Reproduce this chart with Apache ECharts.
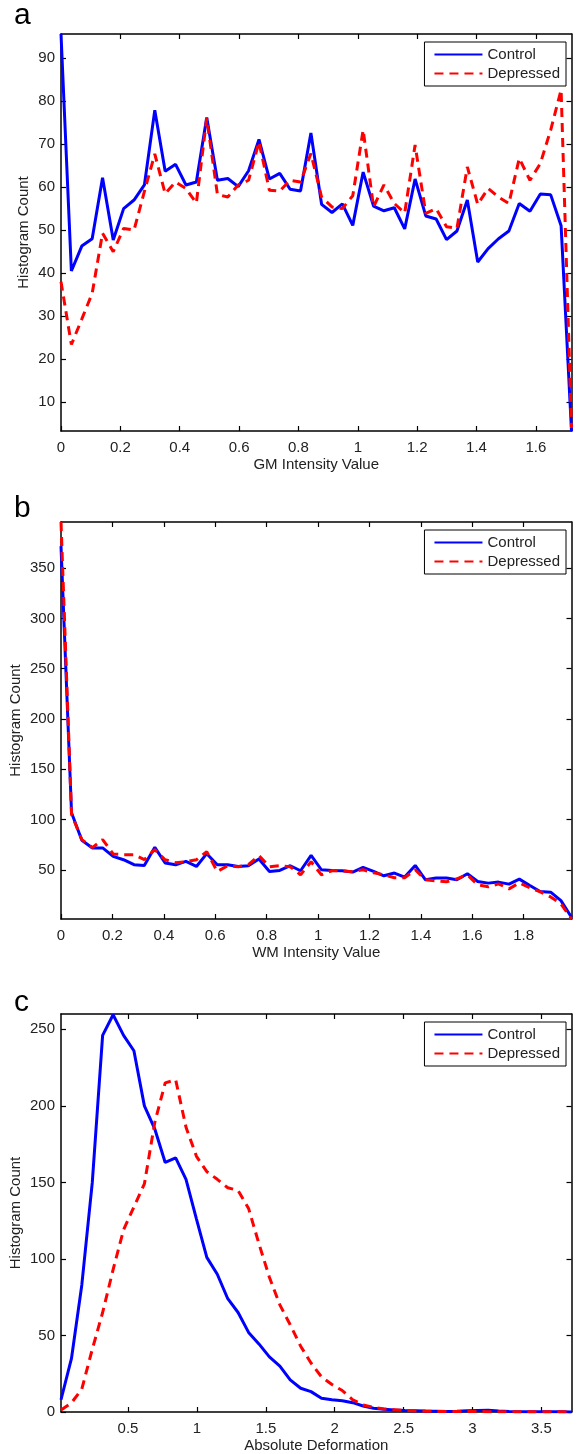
<!DOCTYPE html>
<html>
<head>
<meta charset="utf-8">
<script src="https://cdn.jsdelivr.net/npm/echarts@6/dist/echarts.min.js"></script>
<style>
html, body { margin: 0; padding: 0; background: #fff; }
#chart { width: 578px; height: 1454px; }
</style>
</head>
<body>
<div id="chart"></div>
<script>
// panel a: GM intensity
var gmX = [0, 0.035, 0.070, 0.105, 0.140, 0.176, 0.211, 0.246, 0.281, 0.316, 0.351, 0.386, 0.421, 0.456, 0.491, 0.527, 0.562, 0.597, 0.632, 0.667, 0.702, 0.737, 0.772, 0.807, 0.842, 0.878, 0.913, 0.948, 0.983, 1.018, 1.053, 1.088, 1.123, 1.158, 1.193, 1.229, 1.264, 1.299, 1.334, 1.369, 1.404, 1.439, 1.474, 1.509, 1.544, 1.580, 1.615, 1.650, 1.685, 1.720];
var gmControl = [95.6, 40.5, 46.3, 48, 62.2, 47.7, 55, 57, 60.5, 77.9, 63.7, 65.3, 60.5, 61.2, 76.2, 61.6, 62, 60.1, 63.8, 71.1, 61.9, 63.2, 59.5, 59.1, 72.6, 56, 54.1, 56.1, 51.1, 63.5, 55.6, 54.5, 55.2, 50.3, 61.9, 53.3, 52.6, 47.8, 49.8, 57, 42.6, 45.7, 48, 49.8, 56.2, 54.4, 58.4, 58.2, 51, 3.3];
var gmDepressed = [38, 23.4, 29.3, 35.3, 49.3, 45, 50.4, 50, 59, 67.7, 58.5, 61.2, 59.7, 56.3, 76, 58.3, 57.7, 60.5, 61.6, 70.5, 59.3, 59.1, 61.6, 61.2, 67.8, 57.7, 55.4, 55, 58, 73.3, 55.4, 60.5, 56.2, 54, 69.8, 53.9, 55, 50.8, 50.4, 64.7, 56, 59.7, 57.7, 56.2, 66.7, 61.6, 65.5, 73.3, 82.6, 4];
var gmXTicks = [0, 0.2, 0.4, 0.6, 0.8, 1, 1.2, 1.4, 1.6];
var gmYTicks = [10, 20, 30, 40, 50, 60, 70, 80, 90];

// panel b: WM intensity
var wmX = [0, 0.041, 0.081, 0.122, 0.162, 0.203, 0.243, 0.284, 0.324, 0.365, 0.405, 0.446, 0.486, 0.527, 0.567, 0.608, 0.648, 0.689, 0.729, 0.770, 0.811, 0.851, 0.892, 0.932, 0.973, 1.013, 1.054, 1.094, 1.135, 1.175, 1.216, 1.256, 1.297, 1.337, 1.378, 1.418, 1.459, 1.500, 1.540, 1.581, 1.621, 1.662, 1.702, 1.743, 1.783, 1.824, 1.864, 1.905, 1.945, 1.986];
var wmControl = [372, 106.7, 79.3, 71.7, 71.7, 63.3, 60, 55, 54.3, 72.3, 56.7, 55, 58.3, 53.3, 66, 55, 55, 53.3, 54, 60.7, 48.3, 49.3, 54, 49, 64.3, 50, 49.3, 49, 47.7, 52.3, 48.3, 44, 46.7, 42.7, 54.3, 40, 41.7, 41.7, 40, 46, 38.3, 36.7, 37.7, 35.7, 40.7, 34.3, 28.3, 27.7, 19.3, 2.7];
var wmDepressed = [396, 105, 80, 72, 80, 65.7, 65, 65, 60, 70, 60, 57, 58, 60, 68, 48.3, 54, 53, 55, 64, 53, 54, 53, 45, 58, 45, 49, 49, 48, 50, 47, 45, 42, 42, 50, 40, 39, 38, 41, 45, 35, 33, 36, 31, 37, 32, 28, 23, 16, 1];
var wmXTicks = [0, 0.2, 0.4, 0.6, 0.8, 1, 1.2, 1.4, 1.6, 1.8];
var wmYTicks = [50, 100, 150, 200, 250, 300, 350];

// panel c: absolute deformation
var defX = [0.014, 0.090, 0.165, 0.241, 0.316, 0.392, 0.468, 0.543, 0.619, 0.694, 0.770, 0.846, 0.921, 0.997, 1.072, 1.148, 1.224, 1.299, 1.375, 1.450, 1.526, 1.602, 1.677, 1.753, 1.828, 1.904, 1.980, 2.055, 2.131, 2.206, 2.282, 2.358, 2.433, 2.509, 2.584, 2.660, 2.736, 2.811, 2.887, 2.962, 3.038, 3.114, 3.189, 3.265, 3.340, 3.416, 3.492, 3.567, 3.643, 3.718];
var defControl = [8, 35, 83, 150, 246, 259.5, 246, 236, 200, 185, 163, 166, 152, 126, 101, 90, 74, 65, 52, 44.5, 36, 30, 21, 15.5, 13.3, 9, 8, 7.4, 6.1, 3.9, 2.4, 1.8, 1.3, 1.0, 0.8, 0.6, 0.5, 0.4, 0.5, 0.8, 1.0, 1.1, 0.6, 0.3, 0.2, 0.2, 0.1, 0.1, 0.1, 0];
var defDepressed = [1.3, 6, 15, 41, 65, 93, 119, 134, 149, 189, 215, 217, 186, 167, 157, 152, 146.5, 144.7, 133, 110, 88, 70, 57, 43, 32, 23, 18, 14, 8, 4.6, 3, 2, 1.5, 1, 0.7, 0.5, 0.4, 0.3, 0.3, 0.3, 0.3, 0.2, 0.2, 0.2, 0.1, 0.1, 0.1, 0.1, 0.1, 0.1];
var defXTicks = [0.5, 1, 1.5, 2, 2.5, 3, 3.5];
var defYTicks = [0, 50, 100, 150, 200, 250];

var font = 'Liberation Sans, Arial, Helvetica, sans-serif';
var ink = '#222';

function pairs(xs, ys) {
	return xs.map(function(x, i) { return [x, ys[i]]; });
}

function xAxes(g, min, max, ticks, name) {
	var base = {
		type: 'value', gridIndex: g, min: min, max: max,
		splitLine: { show: false },
		axisLine: { show: true, onZero: false, lineStyle: { color: '#000', width: 1.5 } },
		axisTick: { show: true, inside: true, length: 5, customValues: ticks, lineStyle: { color: '#000', width: 1.2 } }
	};
	var bottom = Object.assign({}, base, {
		position: 'bottom', name: name, nameLocation: 'middle', nameGap: 26, nameMoveOverlap: false,
		nameTextStyle: { fontFamily: font, fontSize: 15, color: ink },
		axisLabel: { show: true, customValues: ticks, margin: 9, fontFamily: font, fontSize: 15, color: ink }
	});
	var top = Object.assign({}, base, { position: 'top', axisLabel: { show: false } });
	return [bottom, top];
}

function yAxes(g, min, max, ticks, gap) {
	var base = {
		type: 'value', gridIndex: g, min: min, max: max,
		splitLine: { show: false },
		axisLine: { show: true, onZero: false, lineStyle: { color: '#000', width: 1.5 } },
		axisTick: { show: true, inside: true, length: 5, customValues: ticks, lineStyle: { color: '#000', width: 1.2 } }
	};
	var left = Object.assign({}, base, {
		position: 'left', name: 'Histogram Count', nameLocation: 'middle', nameGap: gap, nameMoveOverlap: false,
		nameTextStyle: { fontFamily: font, fontSize: 15, color: ink },
		axisLabel: { show: true, customValues: ticks, margin: 6, fontFamily: font, fontSize: 15, color: ink }
	});
	var right = Object.assign({}, base, { position: 'right', axisLabel: { show: false } });
	return [left, right];
}

function lines(g, xs, control, depressed) {
	return [{
		name: 'Control', type: 'line', xAxisIndex: g * 2, yAxisIndex: g * 2,
		data: pairs(xs, control), symbol: 'none', animation: false,
		lineStyle: { color: '#0000ff', width: 3 }, itemStyle: { color: '#0000ff' }
	}, {
		name: 'Depressed', type: 'line', xAxisIndex: g * 2, yAxisIndex: g * 2,
		data: pairs(xs, depressed), symbol: 'none', animation: false,
		lineStyle: { color: '#ff0000', width: 3, type: [9, 6] }, itemStyle: { color: '#ff0000' }
	}];
}

function legend(top) {
	return {
		data: ['Control', 'Depressed'], orient: 'vertical', right: 12, top: top,
		backgroundColor: '#fff', borderColor: '#000', borderWidth: 1,
		padding: [5, 6, 5, 9], itemGap: 4, itemWidth: 48, itemHeight: 14,
		itemStyle: { color: 'rgba(0,0,0,0)', borderWidth: 0, opacity: 0 },
		textStyle: { fontFamily: font, fontSize: 15, color: ink }
	};
}

var myChart = echarts.init(document.getElementById('chart'), null, { renderer: 'canvas' });
var option = {
	animation: false,
	grid: [
		{ left: 61, right: 6.5, top: 34, height: 397, outerBoundsMode: 'none', containLabel: false },
		{ left: 61, right: 6.5, top: 522, height: 397, outerBoundsMode: 'none', containLabel: false },
		{ left: 61, right: 6.5, top: 1014, height: 398, outerBoundsMode: 'none', containLabel: false }
	],
	xAxis: [].concat(
		xAxes(0, 0, 1.72, gmXTicks, 'GM Intensity Value'),
		xAxes(1, 0, 1.986, wmXTicks, 'WM Intensity Value'),
		xAxes(2, 0.014, 3.718, defXTicks, 'Absolute Deformation')
	),
	yAxis: [].concat(
		yAxes(0, 3.3, 95.6, gmYTicks, 30),
		yAxes(1, 1, 396, wmYTicks, 38),
		yAxes(2, 0, 260, defYTicks, 38)
	),
	legend: [legend(42), legend(530), legend(1022)],
	series: [].concat(
		lines(0, gmX, gmControl, gmDepressed),
		lines(1, wmX, wmControl, wmDepressed),
		lines(2, defX, defControl, defDepressed)
	),
	graphic: [
		{ type: 'text', left: 14, top: 1, style: { text: 'a', font: '30px ' + font, fill: '#000' } },
		{ type: 'text', left: 14, top: 494, style: { text: 'b', font: '30px ' + font, fill: '#000' } },
		{ type: 'text', left: 14, top: 988, style: { text: 'c', font: '30px ' + font, fill: '#000' } }
	]
};
myChart.setOption(option);
</script>
</body>
</html>
